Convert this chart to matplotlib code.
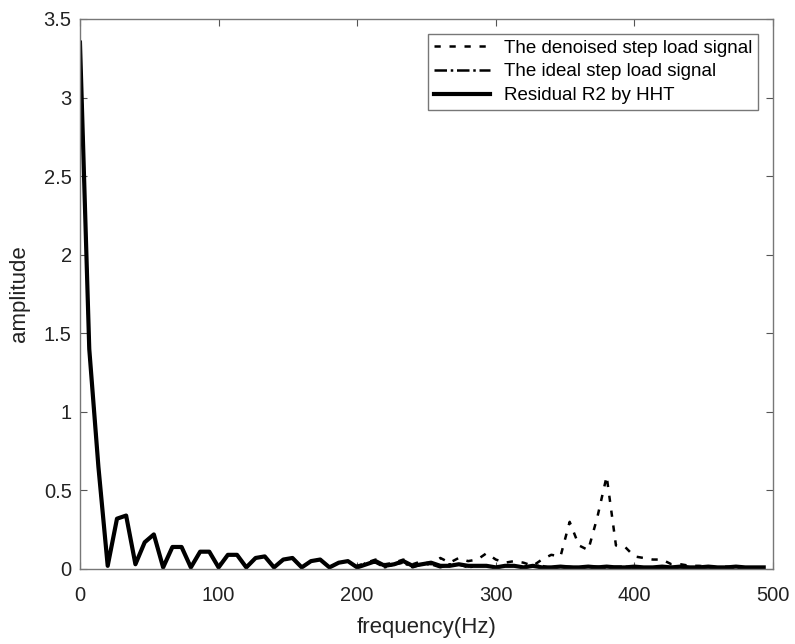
import matplotlib
matplotlib.use("Agg")
import matplotlib.pyplot as plt

plt.rcParams['font.family'] = ['Liberation Sans', 'DejaVu Sans']

# frequency grid (Hz), about 6.67 Hz spacing
freq = [0, 6.7, 13.3, 20, 26.7, 33.3, 40, 46.7, 53.3, 60,
        66.7, 73.3, 80, 86.7, 93.3, 100, 106.7, 113.3, 120, 126.7,
        133.3, 140, 146.7, 153.3, 160, 166.7, 173.3, 180, 186.7, 193.3,
        200, 206.7, 213.3, 220, 226.7, 233.3, 240, 246.7, 253.3, 260,
        266.7, 273.3, 280, 286.7, 293.3, 300, 306.7, 313.3, 320, 326.7,
        333.3, 340, 346.7, 353.3, 360, 366.7, 373.3, 380, 386.7, 393.3,
        400, 406.7, 413.3, 420, 426.7, 433.3, 440, 446.7, 453.3, 460,
        466.7, 473.3, 480, 486.7, 493.3]

denoised = [3.35, 1.40, 0.65, 0.02, 0.32, 0.34, 0.03, 0.17, 0.22, 0.01,
            0.14, 0.14, 0.01, 0.11, 0.11, 0.01, 0.09, 0.09, 0.01, 0.07,
            0.08, 0.01, 0.06, 0.07, 0.01, 0.05, 0.06, 0.01, 0.04, 0.05,
            0.02, 0.04, 0.06, 0.03, 0.04, 0.06, 0.03, 0.05, 0.03, 0.07,
            0.04, 0.07, 0.05, 0.06, 0.10, 0.06, 0.04, 0.05, 0.04, 0.02,
            0.06, 0.09, 0.08, 0.30, 0.15, 0.12, 0.33, 0.59, 0.15, 0.14,
            0.08, 0.07, 0.06, 0.06, 0.03, 0.03, 0.02, 0.02, 0.015, 0.01,
            0.015, 0.01, 0.01, 0.01, 0.01]

ideal = [3.35, 1.40, 0.65, 0.02, 0.32, 0.34, 0.03, 0.17, 0.22, 0.01,
         0.14, 0.14, 0.01, 0.11, 0.11, 0.01, 0.09, 0.09, 0.01, 0.07,
         0.08, 0.01, 0.06, 0.07, 0.01, 0.05, 0.06, 0.01, 0.04, 0.05,
         0.01, 0.04, 0.04, 0.01, 0.03, 0.04, 0.01, 0.03, 0.03, 0.01,
         0.03, 0.03, 0.01, 0.02, 0.02, 0.005, 0.02, 0.02, 0.005, 0.02,
         0.02, 0.005, 0.015, 0.015, 0.005, 0.015, 0.015, 0.005, 0.015, 0.015,
         0.005, 0.01, 0.01, 0.005, 0.01, 0.01, 0.005, 0.01, 0.01, 0.005,
         0.01, 0.01, 0.005, 0.01, 0.01]

residual = [3.35, 1.40, 0.65, 0.02, 0.32, 0.34, 0.03, 0.17, 0.22, 0.01,
            0.14, 0.14, 0.01, 0.11, 0.11, 0.01, 0.09, 0.09, 0.01, 0.07,
            0.08, 0.01, 0.06, 0.07, 0.01, 0.05, 0.06, 0.01, 0.04, 0.05,
            0.01, 0.03, 0.05, 0.02, 0.03, 0.05, 0.02, 0.03, 0.04, 0.02,
            0.02, 0.03, 0.02, 0.02, 0.02, 0.01, 0.02, 0.02, 0.01, 0.02,
            0.01, 0.01, 0.015, 0.01, 0.01, 0.015, 0.01, 0.015, 0.01, 0.01,
            0.015, 0.01, 0.01, 0.015, 0.01, 0.015, 0.01, 0.01, 0.015, 0.01,
            0.01, 0.015, 0.01, 0.01, 0.01]

fig = plt.figure(figsize=(7.95, 6.44), dpi=100)
ax = fig.add_axes([0.1006, 0.1165, 0.8717, 0.854])

ax.plot(freq, denoised, color='black', linestyle=(0, (2.5, 3.5)), linewidth=1.8,
        label='The denoised step load signal')
ax.plot(freq, ideal, color='black', linestyle=(0, (5, 1.5, 1, 1.5)), linewidth=1.8,
        label='The ideal step load signal')
ax.plot(freq, residual, color='black', linestyle='-', linewidth=3.0,
        label='Residual R2 by HHT')

ax.set_xlim(0, 500)
ax.set_ylim(0, 3.5)
ax.set_xticks([0, 100, 200, 300, 400, 500])
ax.set_yticks([0, 0.5, 1, 1.5, 2, 2.5, 3, 3.5])
ax.set_yticklabels(['0', '0.5', '1', '1.5', '2', '2.5', '3', '3.5'])
ax.tick_params(direction='in', top=True, right=True, length=5, width=0.8,
               color='#555555', labelsize=14.5, labelcolor='#222222', pad=6)
ax.tick_params(axis='x', pad=12)
for sp in ax.spines.values():
    sp.set_color('#777777')
    sp.set_linewidth(1.0)

ax.set_xlabel('frequency(Hz)', fontsize=16, color='#222222', labelpad=9)
ax.set_ylabel('amplitude', fontsize=16, color='#222222', labelpad=10)

leg = ax.legend(loc='upper right', fontsize=13.5, frameon=True, fancybox=False,
                handlelength=3.0, borderaxespad=0.8, labelspacing=0.35,
                handletextpad=0.75, borderpad=0.3)
leg.get_frame().set_edgecolor('#555555')
leg.get_frame().set_linewidth(1.0)

plt.savefig('out.png', dpi=100)
